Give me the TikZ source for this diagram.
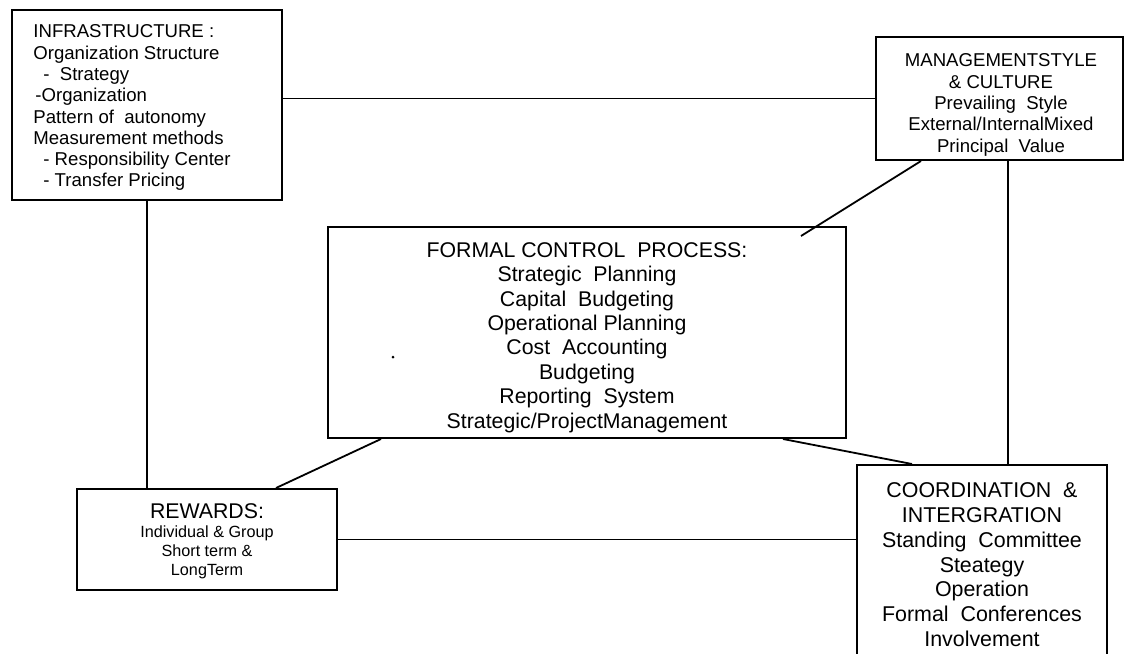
\documentclass[tikz,border=0pt]{standalone}
\usepackage{fontspec}
\setmainfont{Liberation Sans}
\usetikzlibrary{calc}
\begin{document}
\begin{tikzpicture}[x=0.5pt,y=-0.5pt,
  box/.style={draw, line width=1pt, rectangle, inner sep=0pt},
  link/.style={line width=0.9pt},
  txt/.style={inner sep=0pt, text=black},
  smalltxt/.style={font=\fontsize{9.3}{10.65}\selectfont},
  bigtxt/.style={font=\fontsize{10.65}{12.2}\selectfont}]
\clip (0,0) rectangle (1126,654);

% frames
\node[box, minimum width=135pt, minimum height=95pt]   (infra)   at (147,105)   {};
\node[box, minimum width=123.5pt, minimum height=61.5pt] (mgmt)  at (999.5,98.5) {};
\node[box, minimum width=259pt, minimum height=105.5pt] (fcp)    at (587,332.5) {};
\node[box, minimum width=130pt, minimum height=50.5pt]  (rewards) at (207,539.5) {};
\node[box, minimum width=125pt, minimum height=102.5pt] (coord)  at (982,567.5) {};

% contents
\node[txt, smalltxt, anchor=north west, align=left] (infra-text) at (33,24.5)
  {INFRASTRUCTURE :\\
   Organization Structure\\
   \hspace*{5pt}-~ Strategy\\
   \hspace*{1pt}-Organization\\
   Pattern of~ autonomy\\
   Measurement methods\\
   \hspace*{5pt}- Responsibility Center\\
   \hspace*{5pt}- Transfer Pricing};

\node[txt, smalltxt, anchor=north, align=center] (mgmt-text) at (1001,53.5)
  {MANAGEMENTSTYLE\\
   \& CULTURE\\
   Prevailing~ Style\\
   External/InternalMixed\\
   Principal~ Value};

\node[txt, bigtxt, anchor=north, align=center] (fcp-text) at (587,242)
  {FORMAL CONTROL~ PROCESS:\\
   Strategic~ Planning\\
   Capital~ Budgeting\\
   Operational Planning\\
   Cost~ Accounting\\
   Budgeting\\
   Reporting~ System\\
   Strategic/ProjectManagement};

\node[txt, anchor=north, align=center, font=\fontsize{8.1}{9.6}\selectfont] (rewards-text) at (207,503)
  {{\fontsize{10.65}{12}\selectfont REWARDS:}\\
   Individual \& Group\\
   Short term \&\\
   LongTerm};

\node[txt, anchor=north, align=center, font=\fontsize{10.7}{12.45}\selectfont] (coord-text) at (982,482)
  {COORDINATION~ \&\\
   INTERGRATION\\
   Standing~ Committee\\
   Steategy\\
   Operation\\
   Formal~ Conferences\\
   Involvement};

% connectors
\coordinate (mdrop) at ($(mgmt.south)+(8.5,0)$);
\draw[link] (mgmt.west -| infra.east) -- (mgmt.west);
\draw[link] (infra.south) -- (infra.south |- rewards.north);
\draw[link] ($(mgmt.south west)+(46,0)$) -- ($(fcp.north east)+(-46,10)$);
\draw[link] (mdrop) -- (mdrop |- coord.north);
\draw[link] ($(fcp.south west)+(54,0)$) -- ($(rewards.north east)+(-62,0)$);
\draw[link] ($(fcp.south east)+(-64,0)$) -- ($(coord.north west)+(56,0)$);
\draw[link] (rewards.east) -- (rewards.east -| coord.west);

% stray mark inside the process frame
\fill (393,357) circle (1.5);
\end{tikzpicture}
\end{document}
